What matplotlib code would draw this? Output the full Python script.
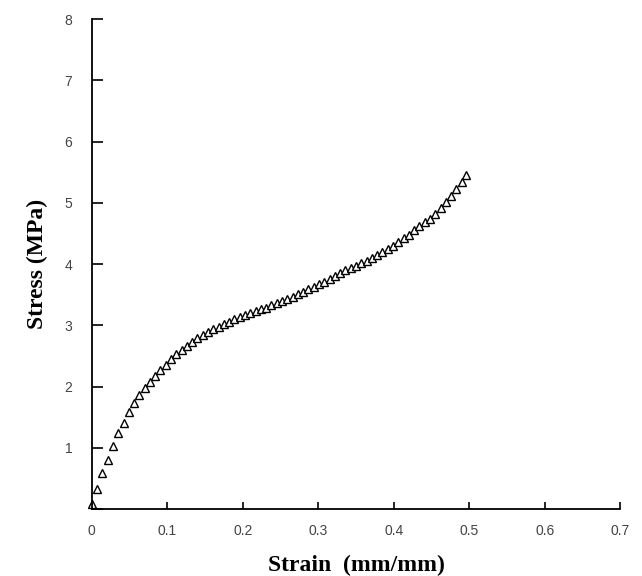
import matplotlib.pyplot as plt

# strain (mm/mm) and stress (MPa)
strain = [0.000, 0.007, 0.014, 0.021, 0.028, 0.035, 0.042, 0.049, 0.056, 0.063,
          0.070, 0.077, 0.084, 0.091, 0.098, 0.105, 0.112, 0.119, 0.126, 0.133,
          0.140, 0.147, 0.154, 0.161, 0.168, 0.175, 0.182, 0.189, 0.196, 0.203,
          0.210, 0.217, 0.224, 0.231, 0.238, 0.245, 0.252, 0.259, 0.266, 0.273,
          0.280, 0.287, 0.294, 0.301, 0.308, 0.315, 0.322, 0.329, 0.336, 0.343,
          0.350, 0.357, 0.364, 0.371, 0.378, 0.385, 0.392, 0.399, 0.406, 0.413,
          0.420, 0.427, 0.434, 0.441, 0.448, 0.455, 0.462, 0.469, 0.476, 0.483,
          0.490, 0.496]
stress = [0.08, 0.33, 0.59, 0.81, 1.03, 1.24, 1.40, 1.58, 1.73, 1.86,
          1.98, 2.08, 2.18, 2.27, 2.36, 2.45, 2.53, 2.60, 2.67, 2.73,
          2.79, 2.84, 2.89, 2.94, 2.98, 3.02, 3.06, 3.10, 3.14, 3.17,
          3.20, 3.23, 3.26, 3.29, 3.33, 3.36, 3.39, 3.43, 3.47, 3.51,
          3.55, 3.59, 3.63, 3.67, 3.71, 3.76, 3.81, 3.86, 3.91, 3.94,
          3.97, 4.01, 4.05, 4.10, 4.15, 4.20, 4.25, 4.30, 4.36, 4.42,
          4.48, 4.55, 4.62, 4.68, 4.74, 4.82, 4.91, 5.01, 5.11, 5.22,
          5.34, 5.45]

xticks = [0, 0.1, 0.2, 0.3, 0.4, 0.5, 0.6, 0.7]
xticklabels = ['0', '0.1', '0.2', '0.3', '0.4', '0.5', '0.6', '0.7']
yticks = [0, 1, 2, 3, 4, 5, 6, 7, 8]
yticklabels = ['', '1', '2', '3', '4', '5', '6', '7', '8']

fig = plt.figure(figsize=(6.42, 5.76), dpi=100)
ax = fig.add_axes([0.143, 0.116, 0.823, 0.851])

ax.plot(strain, stress, linestyle='none', marker='^', markersize=6.2,
        markerfacecolor='white', markeredgecolor='black', markeredgewidth=1.0,
        clip_on=False)

ax.set_xlim(0, 0.7)
ax.set_ylim(0, 8)
ax.spines['top'].set_visible(False)
ax.spines['right'].set_visible(False)
ax.spines['left'].set_linewidth(1.3)
ax.spines['bottom'].set_linewidth(1.3)

ax.set_xticks(xticks)
ax.set_xticklabels(xticklabels)
ax.set_yticks(yticks)
ax.set_yticklabels(yticklabels)
ax.tick_params(axis='x', direction='in', length=5, width=1.2, pad=11,
               labelsize=10, labelcolor='#444444')
ax.tick_params(axis='y', direction='in', length=8, width=1.2, pad=14,
               labelsize=10, labelcolor='#444444')
for lbl in ax.get_xticklabels() + ax.get_yticklabels():
    lbl.set_family('Liberation Sans')

ax.set_xlabel('Strain  (mm/mm)', fontsize=17, fontweight='bold',
              family='Liberation Serif', labelpad=12)
ax.set_ylabel('Stress (MPa)', fontsize=17, fontweight='bold',
              family='Liberation Serif', labelpad=12)

fig.savefig('out.png', dpi=100)
